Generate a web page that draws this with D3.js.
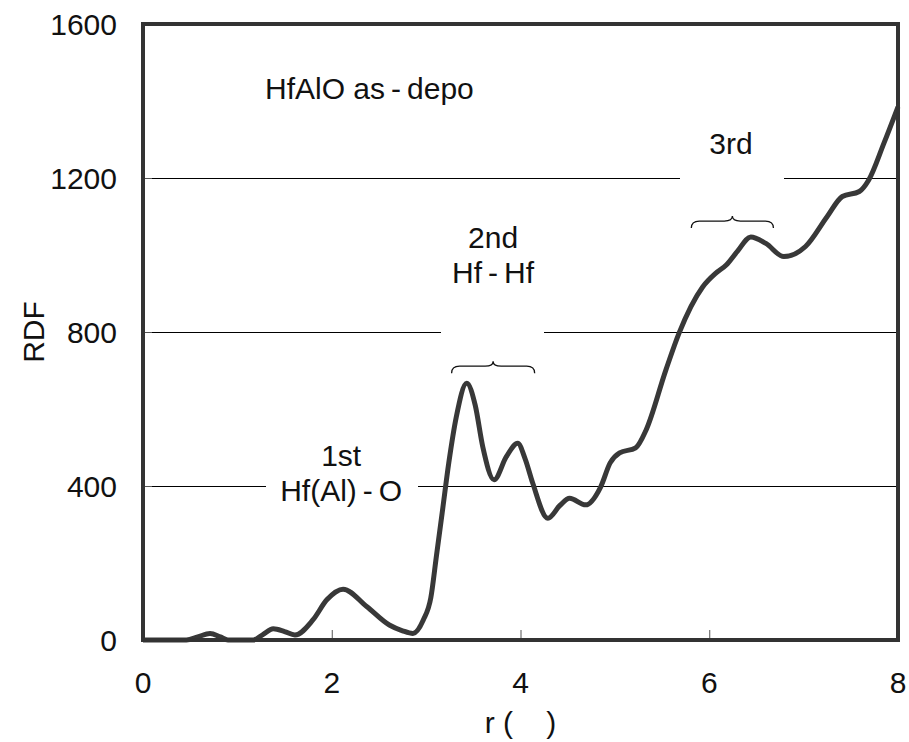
<!DOCTYPE html>
<html>
<head>
<meta charset="utf-8">
<script src="https://cdn.jsdelivr.net/npm/d3@7"></script>
<style>
  body { margin: 0; background: #fff; }
  text { font-family: "Liberation Sans", Arial, sans-serif; fill: #111; }
</style>
</head>
<body>
<svg id="chart" width="909" height="742"></svg>
<script>
// r (Angstrom) and RDF values
const rValues = [0, 0.3, 0.46, 0.58, 0.71, 0.82, 0.9, 1.0, 1.17, 1.27, 1.38, 1.5, 1.61, 1.8, 1.95, 2.12,
  2.37, 2.61, 2.75, 2.86, 2.97, 3.05, 3.11, 3.17, 3.24, 3.32, 3.43, 3.52, 3.6, 3.72, 3.85, 3.97,
  4.05, 4.13, 4.29, 4.42, 4.52, 4.69, 4.85, 4.95, 5.05, 5.22, 5.33, 5.54, 5.68, 5.93, 6.07, 6.18,
  6.3, 6.44, 6.6, 6.79, 7.02, 7.25, 7.41, 7.59, 7.69, 7.85, 8.0];
const rdfValues = [0, 0, 0, 8, 17, 8, 0, 0, 0, 14, 29, 22, 13, 52, 105, 132,
  87, 39, 24, 17, 52, 110, 220, 330, 460, 580, 667, 610, 502, 416, 476, 511,
  470, 407, 316, 350, 368, 351, 398, 460, 486, 499, 545, 701, 797, 917, 953, 974,
  1010, 1047, 1030, 996, 1022, 1100, 1152, 1165, 1195, 1290, 1385];

const xTicks = [0, 2, 4, 6, 8];
const yTicks = [0, 400, 800, 1200, 1600];
const gridValues = [400, 800, 1200];

// shell annotations: label lines, gridline gap, and optional brace range
const shellLabels = [
  { lines: ['1st', 'Hf(Al)\u2009-\u2009O'], r: 2.1, y: 466, grid: 400, gap: [266, 418] },
  { lines: ['2nd', 'Hf\u2009-\u2009Hf'], r: 3.71, y: 248, grid: 800, gap: [441, 544], brace: [3.27, 4.15, 693] },
  { lines: ['3rd'], r: 6.23, y: 154, grid: 1200, gap: [680, 784], brace: [5.81, 6.68, 1070] }
];

const W = 909, H = 742;
const margin = { top: 24, right: 11, bottom: 102, left: 143 };

const svg = d3.select('#chart');
const x = d3.scaleLinear().domain([0, 8]).range([margin.left, W - margin.right]);
const y = d3.scaleLinear().domain([0, 1600]).range([H - margin.bottom, margin.top]);

// gridlines
svg.append('g').selectAll('line').data(gridValues).join('line')
  .attr('x1', x(0)).attr('x2', x(8))
  .attr('y1', d => y(d) + 0.5).attr('y2', d => y(d) + 0.5)
  .attr('stroke', '#000').attr('stroke-width', 1);

// inner ticks
svg.append('g').selectAll('line').data(xTicks.slice(1, -1)).join('line')
  .attr('x1', d => x(d) + 0.5).attr('x2', d => x(d) + 0.5)
  .attr('y1', y(0)).attr('y2', y(0) - 10)
  .attr('stroke', '#555').attr('stroke-width', 1);
svg.append('g').selectAll('line').data(yTicks.slice(1, -1)).join('line')
  .attr('x1', x(0)).attr('x2', x(0) + 9)
  .attr('y1', d => y(d) + 0.5).attr('y2', d => y(d) + 0.5)
  .attr('stroke', '#555').attr('stroke-width', 1);

// label gaps in the gridlines
shellLabels.forEach(s => {
  svg.append('rect')
    .attr('x', s.gap[0]).attr('width', s.gap[1] - s.gap[0])
    .attr('y', y(s.grid) - 4).attr('height', 9)
    .attr('fill', '#fff');
});

// curve
const pts = rValues.map((r, i) => ({ r, v: rdfValues[i] }));
const line = d3.line()
  .x(d => x(d.r))
  .y(d => y(d.v))
  .curve(d3.curveMonotoneX);
svg.append('path')
  .attr('d', line(pts))
  .attr('fill', 'none')
  .attr('stroke', '#383838')
  .attr('stroke-width', 5)
  .attr('stroke-linejoin', 'round');

// frame
svg.append('rect')
  .attr('x', x(0)).attr('y', y(1600))
  .attr('width', x(8) - x(0)).attr('height', y(0) - y(1600))
  .attr('fill', 'none').attr('stroke', '#333').attr('stroke-width', 4);

// braces
shellLabels.filter(s => s.brace).forEach(s => {
  const [r0, r1, v] = s.brace;
  const x0 = x(r0), x1 = x(r1), xc = (x0 + x1) / 2;
  const yb = y(v), ym = yb - 7, yt = yb - 12, q = 8;
  svg.append('path')
    .attr('d', `M${x0},${yb} Q${x0},${ym} ${x0 + q},${ym} L${xc - q},${ym} Q${xc},${ym} ${xc},${yt}` +
      ` Q${xc},${ym} ${xc + q},${ym} L${x1 - q},${ym} Q${x1},${ym} ${x1},${yb}`)
    .attr('fill', 'none').attr('stroke', '#111').attr('stroke-width', 1.3);
});

// shell labels
shellLabels.forEach(s => {
  const t = svg.append('text')
    .attr('x', x(s.r)).attr('y', s.y)
    .attr('text-anchor', 'middle').attr('font-size', 30);
  s.lines.forEach((l, i) => t.append('tspan').attr('x', x(s.r)).attr('dy', i ? 35 : 0).text(l));
});

svg.append('text')
  .attr('x', 265).attr('y', 99)
  .attr('font-size', 30)
  .text('HfAlO as\u2009-\u2009depo');

// tick labels
svg.append('g').selectAll('text').data(xTicks).join('text')
  .attr('x', d => x(d)).attr('y', 693)
  .attr('text-anchor', 'middle').attr('font-size', 30)
  .text(d => d);
svg.append('g').selectAll('text').data(yTicks).join('text')
  .attr('x', 117).attr('y', d => y(d) + 11)
  .attr('text-anchor', 'end').attr('font-size', 30)
  .text(d => d);

// axis titles
svg.append('text')
  .attr('x', x(4)).attr('y', 733)
  .attr('text-anchor', 'middle').attr('font-size', 30)
  .attr('xml:space', 'preserve')
  .text('r (    )');
svg.append('text')
  .attr('transform', `translate(44,${y(800)}) rotate(-90)`)
  .attr('text-anchor', 'middle').attr('font-size', 30)
  .text('RDF');
</script>
</body>
</html>
